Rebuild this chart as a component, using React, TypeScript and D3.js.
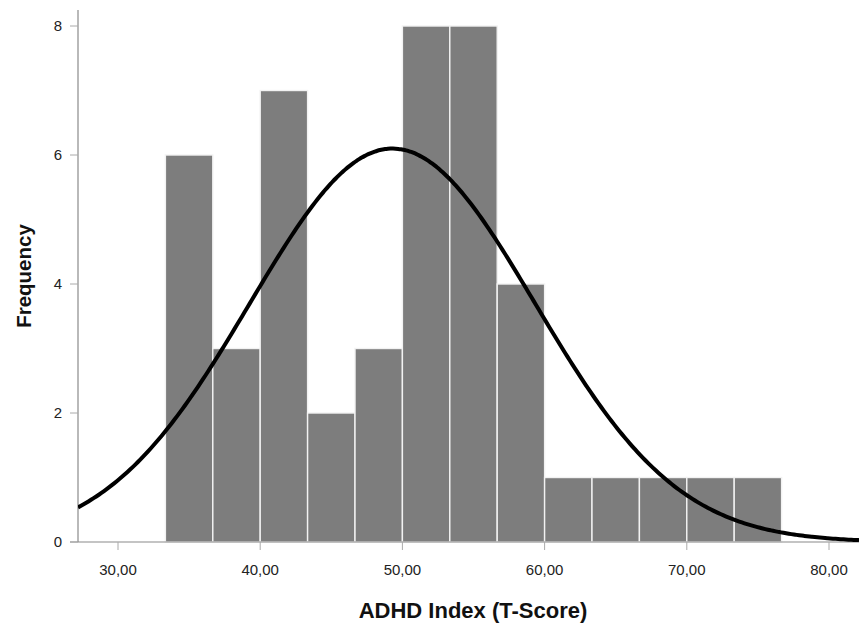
import React from "react";
import * as d3 from "d3";

const binEdges = [33.333, 36.667, 40, 43.333, 46.667, 50, 53.333, 56.667, 60, 63.333, 66.667, 70, 73.333, 76.667];
const counts = [6, 3, 7, 2, 3, 8, 8, 4, 1, 1, 1, 1, 1];
const xTicks = [30, 40, 50, 60, 70, 80];
const yTicks = [0, 2, 4, 6, 8];
const curveMean = 49.3;
const curveSd = 10.03;
const xTitle = "ADHD Index (T-Score)";
const yTitle = "Frequency";

const W = 859;
const H = 625;
const FONT = "Arial, 'Liberation Sans', sans-serif";

export default function App() {
  const x = d3.scaleLinear().domain([30, 80]).range([118, 829]);
  const y = d3.scaleLinear().domain([0, 8]).range([542, 26]);
  const xMin = x.invert(78);
  const xMax = x.invert(W);
  const n = d3.sum(counts);
  const bw = binEdges[1] - binEdges[0];
  const pts = d3.range(0, 301).map((i) => {
    const v = xMin + ((xMax - xMin) * i) / 300;
    const z = (v - curveMean) / curveSd;
    const f = (n * bw) / (curveSd * Math.sqrt(2 * Math.PI)) * Math.exp(-0.5 * z * z);
    return [v, f] as [number, number];
  });
  const line = d3.line<[number, number]>().x((d) => x(d[0])).y((d) => y(d[1])).curve(d3.curveBasis);
  const fmt = (v: number) => v.toFixed(2).replace(".", ",");

  return (
    <svg width={W} height={H} style={{ position: "absolute", left: 0, top: 0, background: "#fff" }} fontFamily={FONT}>
      <defs>
        <clipPath id="plot">
          <rect x={78} y={0} width={W - 78} height={542} />
        </clipPath>
      </defs>
      {counts.map((c, i) => (
        <rect
          key={i}
          x={x(binEdges[i])}
          y={y(c)}
          width={x(binEdges[i + 1]) - x(binEdges[i])}
          height={y(0) - y(c)}
          fill="#7d7d7d"
          stroke="#f2f2f2"
          strokeWidth={1.4}
        />
      ))}
      {/* axes */}
      <line x1={78} x2={78} y1={10} y2={542} stroke="#8a8a8a" strokeWidth={1.2} />
      <line x1={70} x2={W} y1={542} y2={542} stroke="#8a8a8a" strokeWidth={1.2} />
      {yTicks.map((t) => (
        <g key={t}>
          <line x1={70} x2={78} y1={y(t)} y2={y(t)} stroke="#aaa" strokeWidth={1} />
          <text x={62} y={y(t)} dy="0.36em" textAnchor="end" fontSize={15} fill="#222">
            {t}
          </text>
        </g>
      ))}
      {xTicks.map((t) => (
        <g key={t}>
          <line x1={x(t)} x2={x(t)} y1={542} y2={550} stroke="#aaa" strokeWidth={1} />
          <text x={x(t)} y={575} textAnchor="middle" fontSize={15} fill="#222">
            {fmt(t)}
          </text>
        </g>
      ))}
      <path d={line(pts) || ""} fill="none" stroke="#000" strokeWidth={4} clipPath="url(#plot)" />
      <text x={473} y={618} textAnchor="middle" fontSize={22} fontWeight="bold" fill="#111">
        {xTitle}
      </text>
      <text
        transform={`translate(31,276) rotate(-90)`}
        textAnchor="middle"
        fontSize={20.5}
        fontWeight="bold"
        fill="#111"
      >
        {yTitle}
      </text>
    </svg>
  );
}
